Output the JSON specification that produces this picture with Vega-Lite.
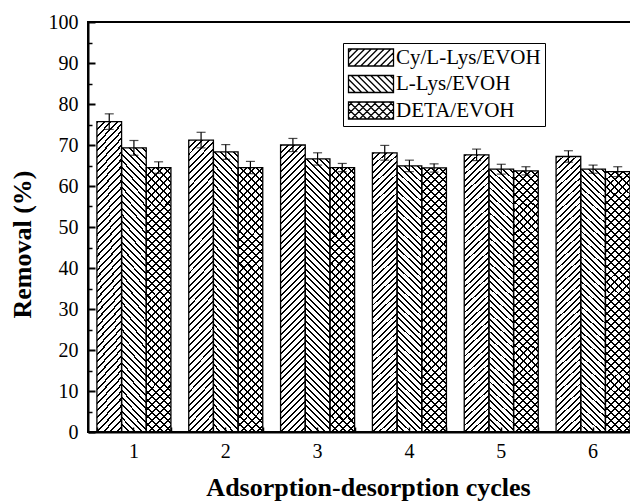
{
  "$schema": "https://vega.github.io/schema/vega-lite/v6.json",
  "width": 551,
  "height": 410,
  "autosize": "none",
  "padding": {"left": 88, "top": 22, "right": -9, "bottom": 70},
  "background": "white",
  "params": [
    {"name": "hs", "value": [
      {"offset":0,"color":"#000"},{"offset":0.0063,"color":"#000"},{"offset":0.0063,"color":"#0000"},{"offset":0.0208,"color":"#0000"},
      {"offset":0.0208,"color":"#000"},{"offset":0.0271,"color":"#000"},{"offset":0.0271,"color":"#0000"},{"offset":0.0417,"color":"#0000"},
      {"offset":0.0417,"color":"#000"},{"offset":0.0479,"color":"#000"},{"offset":0.0479,"color":"#0000"},{"offset":0.0625,"color":"#0000"},
      {"offset":0.0625,"color":"#000"},{"offset":0.0688,"color":"#000"},{"offset":0.0688,"color":"#0000"},{"offset":0.0833,"color":"#0000"},
      {"offset":0.0833,"color":"#000"},{"offset":0.0896,"color":"#000"},{"offset":0.0896,"color":"#0000"},{"offset":0.1042,"color":"#0000"},
      {"offset":0.1042,"color":"#000"},{"offset":0.1104,"color":"#000"},{"offset":0.1104,"color":"#0000"},{"offset":0.125,"color":"#0000"},
      {"offset":0.125,"color":"#000"},{"offset":0.1313,"color":"#000"},{"offset":0.1313,"color":"#0000"},{"offset":0.1458,"color":"#0000"},
      {"offset":0.1458,"color":"#000"},{"offset":0.1521,"color":"#000"},{"offset":0.1521,"color":"#0000"},{"offset":0.1667,"color":"#0000"},
      {"offset":0.1667,"color":"#000"},{"offset":0.1729,"color":"#000"},{"offset":0.1729,"color":"#0000"},{"offset":0.1875,"color":"#0000"},
      {"offset":0.1875,"color":"#000"},{"offset":0.1938,"color":"#000"},{"offset":0.1938,"color":"#0000"},{"offset":0.2083,"color":"#0000"},
      {"offset":0.2083,"color":"#000"},{"offset":0.2146,"color":"#000"},{"offset":0.2146,"color":"#0000"},{"offset":0.2292,"color":"#0000"},
      {"offset":0.2292,"color":"#000"},{"offset":0.2354,"color":"#000"},{"offset":0.2354,"color":"#0000"},{"offset":0.25,"color":"#0000"},
      {"offset":0.25,"color":"#000"},{"offset":0.2563,"color":"#000"},{"offset":0.2563,"color":"#0000"},{"offset":0.2708,"color":"#0000"},
      {"offset":0.2708,"color":"#000"},{"offset":0.2771,"color":"#000"},{"offset":0.2771,"color":"#0000"},{"offset":0.2917,"color":"#0000"},
      {"offset":0.2917,"color":"#000"},{"offset":0.2979,"color":"#000"},{"offset":0.2979,"color":"#0000"},{"offset":0.3125,"color":"#0000"},
      {"offset":0.3125,"color":"#000"},{"offset":0.3188,"color":"#000"},{"offset":0.3188,"color":"#0000"},{"offset":0.3333,"color":"#0000"},
      {"offset":0.3333,"color":"#000"},{"offset":0.3396,"color":"#000"},{"offset":0.3396,"color":"#0000"},{"offset":0.3542,"color":"#0000"},
      {"offset":0.3542,"color":"#000"},{"offset":0.3604,"color":"#000"},{"offset":0.3604,"color":"#0000"},{"offset":0.375,"color":"#0000"},
      {"offset":0.375,"color":"#000"},{"offset":0.3813,"color":"#000"},{"offset":0.3813,"color":"#0000"},{"offset":0.3958,"color":"#0000"},
      {"offset":0.3958,"color":"#000"},{"offset":0.4021,"color":"#000"},{"offset":0.4021,"color":"#0000"},{"offset":0.4167,"color":"#0000"},
      {"offset":0.4167,"color":"#000"},{"offset":0.4229,"color":"#000"},{"offset":0.4229,"color":"#0000"},{"offset":0.4375,"color":"#0000"},
      {"offset":0.4375,"color":"#000"},{"offset":0.4438,"color":"#000"},{"offset":0.4438,"color":"#0000"},{"offset":0.4583,"color":"#0000"},
      {"offset":0.4583,"color":"#000"},{"offset":0.4646,"color":"#000"},{"offset":0.4646,"color":"#0000"},{"offset":0.4792,"color":"#0000"},
      {"offset":0.4792,"color":"#000"},{"offset":0.4854,"color":"#000"},{"offset":0.4854,"color":"#0000"},{"offset":0.5,"color":"#0000"},
      {"offset":0.5,"color":"#000"},{"offset":0.5063,"color":"#000"},{"offset":0.5063,"color":"#0000"},{"offset":0.5208,"color":"#0000"},
      {"offset":0.5208,"color":"#000"},{"offset":0.5271,"color":"#000"},{"offset":0.5271,"color":"#0000"},{"offset":0.5417,"color":"#0000"},
      {"offset":0.5417,"color":"#000"},{"offset":0.5479,"color":"#000"},{"offset":0.5479,"color":"#0000"},{"offset":0.5625,"color":"#0000"},
      {"offset":0.5625,"color":"#000"},{"offset":0.5688,"color":"#000"},{"offset":0.5688,"color":"#0000"},{"offset":0.5833,"color":"#0000"},
      {"offset":0.5833,"color":"#000"},{"offset":0.5896,"color":"#000"},{"offset":0.5896,"color":"#0000"},{"offset":0.6042,"color":"#0000"},
      {"offset":0.6042,"color":"#000"},{"offset":0.6104,"color":"#000"},{"offset":0.6104,"color":"#0000"},{"offset":0.625,"color":"#0000"},
      {"offset":0.625,"color":"#000"},{"offset":0.6313,"color":"#000"},{"offset":0.6313,"color":"#0000"},{"offset":0.6458,"color":"#0000"},
      {"offset":0.6458,"color":"#000"},{"offset":0.6521,"color":"#000"},{"offset":0.6521,"color":"#0000"},{"offset":0.6667,"color":"#0000"},
      {"offset":0.6667,"color":"#000"},{"offset":0.6729,"color":"#000"},{"offset":0.6729,"color":"#0000"},{"offset":0.6875,"color":"#0000"},
      {"offset":0.6875,"color":"#000"},{"offset":0.6938,"color":"#000"},{"offset":0.6938,"color":"#0000"},{"offset":0.7083,"color":"#0000"},
      {"offset":0.7083,"color":"#000"},{"offset":0.7146,"color":"#000"},{"offset":0.7146,"color":"#0000"},{"offset":0.7292,"color":"#0000"},
      {"offset":0.7292,"color":"#000"},{"offset":0.7354,"color":"#000"},{"offset":0.7354,"color":"#0000"},{"offset":0.75,"color":"#0000"},
      {"offset":0.75,"color":"#000"},{"offset":0.7563,"color":"#000"},{"offset":0.7563,"color":"#0000"},{"offset":0.7708,"color":"#0000"},
      {"offset":0.7708,"color":"#000"},{"offset":0.7771,"color":"#000"},{"offset":0.7771,"color":"#0000"},{"offset":0.7917,"color":"#0000"},
      {"offset":0.7917,"color":"#000"},{"offset":0.7979,"color":"#000"},{"offset":0.7979,"color":"#0000"},{"offset":0.8125,"color":"#0000"},
      {"offset":0.8125,"color":"#000"},{"offset":0.8188,"color":"#000"},{"offset":0.8188,"color":"#0000"},{"offset":0.8333,"color":"#0000"},
      {"offset":0.8333,"color":"#000"},{"offset":0.8396,"color":"#000"},{"offset":0.8396,"color":"#0000"},{"offset":0.8542,"color":"#0000"},
      {"offset":0.8542,"color":"#000"},{"offset":0.8604,"color":"#000"},{"offset":0.8604,"color":"#0000"},{"offset":0.875,"color":"#0000"},
      {"offset":0.875,"color":"#000"},{"offset":0.8813,"color":"#000"},{"offset":0.8813,"color":"#0000"},{"offset":0.8958,"color":"#0000"},
      {"offset":0.8958,"color":"#000"},{"offset":0.9021,"color":"#000"},{"offset":0.9021,"color":"#0000"},{"offset":0.9167,"color":"#0000"},
      {"offset":0.9167,"color":"#000"},{"offset":0.9229,"color":"#000"},{"offset":0.9229,"color":"#0000"},{"offset":0.9375,"color":"#0000"},
      {"offset":0.9375,"color":"#000"},{"offset":0.9438,"color":"#000"},{"offset":0.9438,"color":"#0000"},{"offset":0.9583,"color":"#0000"},
      {"offset":0.9583,"color":"#000"},{"offset":0.9646,"color":"#000"},{"offset":0.9646,"color":"#0000"},{"offset":0.9792,"color":"#0000"},
      {"offset":0.9792,"color":"#000"},{"offset":0.9854,"color":"#000"},{"offset":0.9854,"color":"#0000"},{"offset":1,"color":"#0000"}
    ]},
    {"name": "hc", "value": [
      {"offset":0,"color":"#000"},{"offset":0.0069,"color":"#000"},{"offset":0.0069,"color":"#0000"},{"offset":0.0278,"color":"#0000"},
      {"offset":0.0278,"color":"#000"},{"offset":0.0347,"color":"#000"},{"offset":0.0347,"color":"#0000"},{"offset":0.0556,"color":"#0000"},
      {"offset":0.0556,"color":"#000"},{"offset":0.0625,"color":"#000"},{"offset":0.0625,"color":"#0000"},{"offset":0.0833,"color":"#0000"},
      {"offset":0.0833,"color":"#000"},{"offset":0.0903,"color":"#000"},{"offset":0.0903,"color":"#0000"},{"offset":0.1111,"color":"#0000"},
      {"offset":0.1111,"color":"#000"},{"offset":0.1181,"color":"#000"},{"offset":0.1181,"color":"#0000"},{"offset":0.1389,"color":"#0000"},
      {"offset":0.1389,"color":"#000"},{"offset":0.1458,"color":"#000"},{"offset":0.1458,"color":"#0000"},{"offset":0.1667,"color":"#0000"},
      {"offset":0.1667,"color":"#000"},{"offset":0.1736,"color":"#000"},{"offset":0.1736,"color":"#0000"},{"offset":0.1944,"color":"#0000"},
      {"offset":0.1944,"color":"#000"},{"offset":0.2014,"color":"#000"},{"offset":0.2014,"color":"#0000"},{"offset":0.2222,"color":"#0000"},
      {"offset":0.2222,"color":"#000"},{"offset":0.2292,"color":"#000"},{"offset":0.2292,"color":"#0000"},{"offset":0.25,"color":"#0000"},
      {"offset":0.25,"color":"#000"},{"offset":0.2569,"color":"#000"},{"offset":0.2569,"color":"#0000"},{"offset":0.2778,"color":"#0000"},
      {"offset":0.2778,"color":"#000"},{"offset":0.2847,"color":"#000"},{"offset":0.2847,"color":"#0000"},{"offset":0.3056,"color":"#0000"},
      {"offset":0.3056,"color":"#000"},{"offset":0.3125,"color":"#000"},{"offset":0.3125,"color":"#0000"},{"offset":0.3333,"color":"#0000"},
      {"offset":0.3333,"color":"#000"},{"offset":0.3403,"color":"#000"},{"offset":0.3403,"color":"#0000"},{"offset":0.3611,"color":"#0000"},
      {"offset":0.3611,"color":"#000"},{"offset":0.3681,"color":"#000"},{"offset":0.3681,"color":"#0000"},{"offset":0.3889,"color":"#0000"},
      {"offset":0.3889,"color":"#000"},{"offset":0.3958,"color":"#000"},{"offset":0.3958,"color":"#0000"},{"offset":0.4167,"color":"#0000"},
      {"offset":0.4167,"color":"#000"},{"offset":0.4236,"color":"#000"},{"offset":0.4236,"color":"#0000"},{"offset":0.4444,"color":"#0000"},
      {"offset":0.4444,"color":"#000"},{"offset":0.4514,"color":"#000"},{"offset":0.4514,"color":"#0000"},{"offset":0.4722,"color":"#0000"},
      {"offset":0.4722,"color":"#000"},{"offset":0.4792,"color":"#000"},{"offset":0.4792,"color":"#0000"},{"offset":0.5,"color":"#0000"},
      {"offset":0.5,"color":"#000"},{"offset":0.5069,"color":"#000"},{"offset":0.5069,"color":"#0000"},{"offset":0.5278,"color":"#0000"},
      {"offset":0.5278,"color":"#000"},{"offset":0.5347,"color":"#000"},{"offset":0.5347,"color":"#0000"},{"offset":0.5556,"color":"#0000"},
      {"offset":0.5556,"color":"#000"},{"offset":0.5625,"color":"#000"},{"offset":0.5625,"color":"#0000"},{"offset":0.5833,"color":"#0000"},
      {"offset":0.5833,"color":"#000"},{"offset":0.5903,"color":"#000"},{"offset":0.5903,"color":"#0000"},{"offset":0.6111,"color":"#0000"},
      {"offset":0.6111,"color":"#000"},{"offset":0.6181,"color":"#000"},{"offset":0.6181,"color":"#0000"},{"offset":0.6389,"color":"#0000"},
      {"offset":0.6389,"color":"#000"},{"offset":0.6458,"color":"#000"},{"offset":0.6458,"color":"#0000"},{"offset":0.6667,"color":"#0000"},
      {"offset":0.6667,"color":"#000"},{"offset":0.6736,"color":"#000"},{"offset":0.6736,"color":"#0000"},{"offset":0.6944,"color":"#0000"},
      {"offset":0.6944,"color":"#000"},{"offset":0.7014,"color":"#000"},{"offset":0.7014,"color":"#0000"},{"offset":0.7222,"color":"#0000"},
      {"offset":0.7222,"color":"#000"},{"offset":0.7292,"color":"#000"},{"offset":0.7292,"color":"#0000"},{"offset":0.75,"color":"#0000"},
      {"offset":0.75,"color":"#000"},{"offset":0.7569,"color":"#000"},{"offset":0.7569,"color":"#0000"},{"offset":0.7778,"color":"#0000"},
      {"offset":0.7778,"color":"#000"},{"offset":0.7847,"color":"#000"},{"offset":0.7847,"color":"#0000"},{"offset":0.8056,"color":"#0000"},
      {"offset":0.8056,"color":"#000"},{"offset":0.8125,"color":"#000"},{"offset":0.8125,"color":"#0000"},{"offset":0.8333,"color":"#0000"},
      {"offset":0.8333,"color":"#000"},{"offset":0.8403,"color":"#000"},{"offset":0.8403,"color":"#0000"},{"offset":0.8611,"color":"#0000"},
      {"offset":0.8611,"color":"#000"},{"offset":0.8681,"color":"#000"},{"offset":0.8681,"color":"#0000"},{"offset":0.8889,"color":"#0000"},
      {"offset":0.8889,"color":"#000"},{"offset":0.8958,"color":"#000"},{"offset":0.8958,"color":"#0000"},{"offset":0.9167,"color":"#0000"},
      {"offset":0.9167,"color":"#000"},{"offset":0.9236,"color":"#000"},{"offset":0.9236,"color":"#0000"},{"offset":0.9444,"color":"#0000"},
      {"offset":0.9444,"color":"#000"},{"offset":0.9514,"color":"#000"},{"offset":0.9514,"color":"#0000"},{"offset":0.9722,"color":"#0000"},
      {"offset":0.9722,"color":"#000"},{"offset":0.9792,"color":"#000"},{"offset":0.9792,"color":"#0000"},{"offset":1,"color":"#0000"}
    ]}
  ],
  "data": {"values": [
    {"cycle":1,"series":"Cy/L-Lys/EVOH","v":75.7,"lo":73.8,"hi":77.6},
    {"cycle":1,"series":"L-Lys/EVOH","v":69.3,"lo":67.5,"hi":71.1},
    {"cycle":1,"series":"DETA/EVOH","v":64.5,"lo":63.1,"hi":65.9},
    {"cycle":2,"series":"Cy/L-Lys/EVOH","v":71.2,"lo":69.3,"hi":73.1},
    {"cycle":2,"series":"L-Lys/EVOH","v":68.3,"lo":66.5,"hi":70.1},
    {"cycle":2,"series":"DETA/EVOH","v":64.5,"lo":63.0,"hi":66.0},
    {"cycle":3,"series":"Cy/L-Lys/EVOH","v":70.0,"lo":68.4,"hi":71.6},
    {"cycle":3,"series":"L-Lys/EVOH","v":66.6,"lo":65.1,"hi":68.1},
    {"cycle":3,"series":"DETA/EVOH","v":64.5,"lo":63.5,"hi":65.5},
    {"cycle":4,"series":"Cy/L-Lys/EVOH","v":68.1,"lo":66.3,"hi":69.9},
    {"cycle":4,"series":"L-Lys/EVOH","v":64.9,"lo":63.5,"hi":66.3},
    {"cycle":4,"series":"DETA/EVOH","v":64.4,"lo":63.4,"hi":65.4},
    {"cycle":5,"series":"Cy/L-Lys/EVOH","v":67.6,"lo":66.2,"hi":69.0},
    {"cycle":5,"series":"L-Lys/EVOH","v":64.1,"lo":62.9,"hi":65.3},
    {"cycle":5,"series":"DETA/EVOH","v":63.7,"lo":62.7,"hi":64.7},
    {"cycle":6,"series":"Cy/L-Lys/EVOH","v":67.2,"lo":65.8,"hi":68.6},
    {"cycle":6,"series":"L-Lys/EVOH","v":64.1,"lo":63.1,"hi":65.1},
    {"cycle":6,"series":"DETA/EVOH","v":63.5,"lo":62.3,"hi":64.7}
  ]},
  "resolve": {"axis": {"x": "independent", "y": "independent"}},
  "layer": [
    {
      "transform": [{"filter": "datum.series === 'Cy/L-Lys/EVOH'"}],
      "mark": {"type": "bar", "fill": {"expr": "{gradient:'linear',x1:0,y1:0,x2:0.0928,y2:1.0792,stops:hs}"}},
      "encoding": {
        "x": {"field": "cycle", "type": "ordinal", "scale": {"paddingInner": 0.194, "paddingOuter": 0.097},
          "axis": {"orient": "bottom", "labelAngle": 0, "labelFont": "Liberation Serif", "labelFontSize": 20, "labelPadding": 14, "tickSize": -5, "tickWidth": 1.5, "domainWidth": 2,
            "title": "Adsorption-desorption cycles", "titleFont": "Liberation Serif", "titleFontSize": 26, "titleFontWeight": "bold", "titleX": 280, "titleY": 63, "titleBaseline": "alphabetic"}},
        "xOffset": {"field": "series", "type": "nominal", "scale": {"domain": ["Cy/L-Lys/EVOH", "L-Lys/EVOH", "DETA/EVOH"], "paddingInner": 0, "paddingOuter": 0}},
        "y": {"field": "v", "type": "quantitative", "scale": {"domain": [0, 100], "nice": false},
          "axis": {"orient": "left", "values": [0,10,20,30,40,50,60,70,80,90,100], "labelFont": "Liberation Serif", "labelFontSize": 20, "labelPadding": 17, "tickSize": -7, "tickWidth": 2, "domainWidth": 2,
            "title": "Removal (%)", "titleFont": "Liberation Serif", "titleFontSize": 26, "titleFontWeight": "bold", "titleX": -66, "titleY": 222, "titleBaseline": "middle"}}
      }
    },
    {
      "transform": [{"filter": "datum.series === 'L-Lys/EVOH'"}],
      "mark": {"type": "bar", "fill": {"expr": "{gradient:'linear',x1:0,y1:1,x2:0.1024,y2:-0.1336,stops:hs}"}},
      "encoding": {
        "x": {"field": "cycle", "type": "ordinal", "scale": {"paddingInner": 0.194, "paddingOuter": 0.097},
          "axis": {"orient": "bottom", "labels": false, "domain": false, "tickBand": "extent", "tickSize": -5, "tickWidth": 1.5, "title": null}},
        "xOffset": {"field": "series", "type": "nominal", "scale": {"domain": ["Cy/L-Lys/EVOH", "L-Lys/EVOH", "DETA/EVOH"], "paddingInner": 0, "paddingOuter": 0}},
        "y": {"field": "v", "type": "quantitative", "scale": {"domain": [0, 100], "nice": false},
          "axis": {"orient": "left", "values": [5,15,25,35,45,55,65,75,85,95], "labels": false, "domain": false, "tickSize": -4, "tickWidth": 1.5, "title": null}}
      }
    },
    {
      "transform": [{"filter": "datum.series === 'DETA/EVOH'"}],
      "mark": {"type": "bar", "fill": {"expr": "{gradient:'linear',x1:0,y1:0,x2:0.1018,y2:1.0855,stops:hc}"}},
      "encoding": {
        "x": {"field": "cycle", "type": "ordinal", "scale": {"paddingInner": 0.194, "paddingOuter": 0.097}, "axis": null},
        "xOffset": {"field": "series", "type": "nominal", "scale": {"domain": ["Cy/L-Lys/EVOH", "L-Lys/EVOH", "DETA/EVOH"], "paddingInner": 0, "paddingOuter": 0}},
        "y": {"field": "v", "type": "quantitative", "scale": {"domain": [0, 100], "nice": false}, "axis": null}
      }
    },
    {
      "transform": [{"filter": "datum.series === 'DETA/EVOH'"}],
      "mark": {"type": "bar", "fill": {"expr": "{gradient:'linear',x1:0,y1:1,x2:0.1018,y2:-0.0855,stops:hc}"}},
      "encoding": {
        "x": {"field": "cycle", "type": "ordinal", "scale": {"paddingInner": 0.194, "paddingOuter": 0.097}, "axis": null},
        "xOffset": {"field": "series", "type": "nominal", "scale": {"domain": ["Cy/L-Lys/EVOH", "L-Lys/EVOH", "DETA/EVOH"], "paddingInner": 0, "paddingOuter": 0}},
        "y": {"field": "v", "type": "quantitative", "scale": {"domain": [0, 100], "nice": false}, "axis": null}
      }
    },
    {
      "mark": {"type": "bar", "fill": "white", "fillOpacity": 0, "stroke": "black", "strokeWidth": 1.3},
      "encoding": {
        "x": {"field": "cycle", "type": "ordinal", "scale": {"paddingInner": 0.194, "paddingOuter": 0.097}, "axis": null},
        "xOffset": {"field": "series", "type": "nominal", "scale": {"domain": ["Cy/L-Lys/EVOH", "L-Lys/EVOH", "DETA/EVOH"], "paddingInner": 0, "paddingOuter": 0}},
        "y": {"field": "v", "type": "quantitative", "scale": {"domain": [0, 100], "nice": false}, "axis": null}
      }
    },
    {
      "mark": {"type": "rule", "color": "black", "strokeWidth": 1.2},
      "encoding": {
        "x": {"field": "cycle", "type": "ordinal", "scale": {"paddingInner": 0.194, "paddingOuter": 0.097}, "axis": null},
        "xOffset": {"field": "series", "type": "nominal", "scale": {"domain": ["Cy/L-Lys/EVOH", "L-Lys/EVOH", "DETA/EVOH"], "paddingInner": 0, "paddingOuter": 0}},
        "y": {"field": "lo", "type": "quantitative", "scale": {"domain": [0, 100], "nice": false}, "axis": null},
        "y2": {"field": "hi"}
      }
    },
    {
      "mark": {"type": "tick", "color": "black", "size": 9, "thickness": 1.2},
      "encoding": {
        "x": {"field": "cycle", "type": "ordinal", "scale": {"paddingInner": 0.194, "paddingOuter": 0.097}, "axis": null},
        "xOffset": {"field": "series", "type": "nominal", "scale": {"domain": ["Cy/L-Lys/EVOH", "L-Lys/EVOH", "DETA/EVOH"], "paddingInner": 0, "paddingOuter": 0}},
        "y": {"field": "hi", "type": "quantitative", "scale": {"domain": [0, 100], "nice": false}, "axis": null}
      }
    },
    {
      "mark": {"type": "tick", "color": "black", "size": 9, "thickness": 1.2},
      "encoding": {
        "x": {"field": "cycle", "type": "ordinal", "scale": {"paddingInner": 0.194, "paddingOuter": 0.097}, "axis": null},
        "xOffset": {"field": "series", "type": "nominal", "scale": {"domain": ["Cy/L-Lys/EVOH", "L-Lys/EVOH", "DETA/EVOH"], "paddingInner": 0, "paddingOuter": 0}},
        "y": {"field": "lo", "type": "quantitative", "scale": {"domain": [0, 100], "nice": false}, "axis": null}
      }
    },
    {
      "transform": [{"filter": "false"}],
      "mark": {"type": "point", "color": "black", "filled": false, "strokeWidth": 1.3},
      "encoding": {
        "x": {"field": "cycle", "type": "ordinal", "scale": {"paddingInner": 0.194, "paddingOuter": 0.097}, "axis": null},
        "xOffset": {"field": "series", "type": "nominal", "scale": {"domain": ["Cy/L-Lys/EVOH", "L-Lys/EVOH", "DETA/EVOH"], "paddingInner": 0, "paddingOuter": 0}},
        "y": {"field": "v", "type": "quantitative", "scale": {"domain": [0, 100], "nice": false}, "axis": null},
        "shape": {"field": "series", "type": "nominal",
          "scale": {"domain": ["Cy/L-Lys/EVOH", "L-Lys/EVOH", "DETA/EVOH"], "range": [
            "M-1,-8.5H44V8.5H-1Z M2.25,-8.5L-1,-5.25 M8.75,-8.5L-1,1.25 M15.25,-8.5L-1,7.75 M21.75,-8.5L4.75,8.5 M28.25,-8.5L11.25,8.5 M34.75,-8.5L17.75,8.5 M41.25,-8.5L24.25,8.5 M44,-4.75L30.75,8.5 M44,1.75L37.25,8.5",
            "M-1,-8.5H44V8.5H-1Z M40.75,-8.5L44,-5.25 M34.25,-8.5L44,1.25 M27.75,-8.5L44,7.75 M21.25,-8.5L38.25,8.5 M14.75,-8.5L31.75,8.5 M8.25,-8.5L25.25,8.5 M1.75,-8.5L18.75,8.5 M-1,-4.75L12.25,8.5 M-1,1.75L5.75,8.5",
            "M-1,-8.5H44V8.5H-1Z M3,-8.5L-1,-4.5 M11,-8.5L-1,3.5 M19,-8.5L2,8.5 M27,-8.5L10,8.5 M35,-8.5L18,8.5 M43,-8.5L26,8.5 M44,-1.5L34,8.5 M44,6.5L42,8.5 M40,-8.5L44,-4.5 M32,-8.5L44,3.5 M24,-8.5L41,8.5 M16,-8.5L33,8.5 M8,-8.5L25,8.5 M0,-8.5L17,8.5 M-1,-1.5L9,8.5 M-1,6.5L1,8.5"
          ]},
          "legend": {"orient": "none", "legendX": 255, "legendY": 21, "title": null, "strokeColor": "black", "fillColor": "white", "padding": 4, "rowPadding": 3.5,
            "labelFont": "Liberation Serif", "labelFontSize": 21, "labelColor": "black", "labelOffset": 36,
            "symbolSize": 4, "symbolStrokeWidth": 1.3, "symbolStrokeColor": "black", "symbolFillColor": "white", "symbolOpacity": 1, "symbolOffset": -8}
        }
      }
    }
  ],
  "config": {
    "font": "Liberation Serif",
    "view": {"stroke": "black", "strokeWidth": 2},
    "axis": {"grid": false, "domainColor": "black", "tickColor": "black", "labelColor": "black", "titleColor": "black"}
  }
}
